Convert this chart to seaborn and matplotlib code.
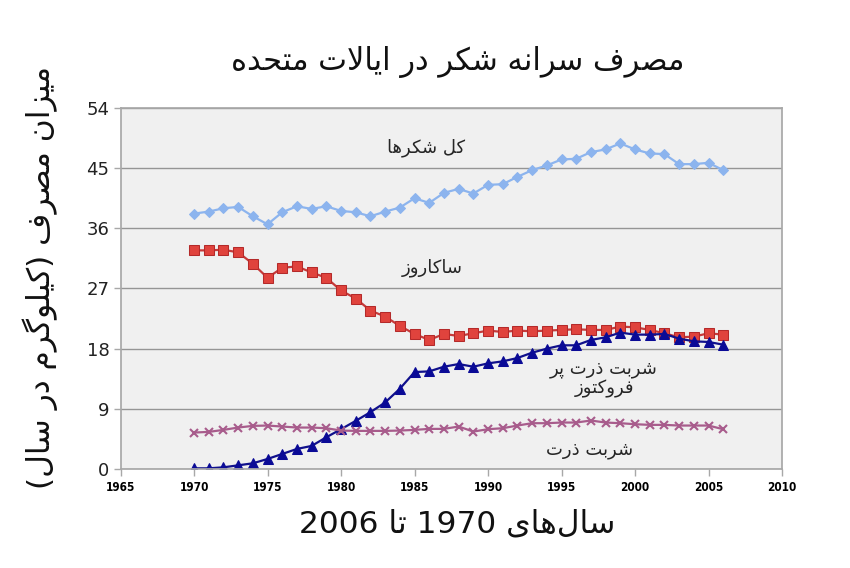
import re
import matplotlib
matplotlib.use('Agg')
import matplotlib.pyplot as plt
import numpy as np
import pandas as pd
import seaborn as sns

years = list(range(1970, 2007))

# کل شکرها
total = [38.2, 38.5, 39.0, 39.2, 37.8, 36.6, 38.4, 39.3, 38.9, 39.3,
         38.6, 38.4, 37.8, 38.5, 39.1, 40.5, 39.8, 41.3, 41.9, 41.2,
         42.5, 42.6, 43.7, 44.7, 45.4, 46.3, 46.4, 47.4, 47.8, 48.7,
         47.8, 47.2, 47.1, 45.6, 45.6, 45.8, 44.7]
# ساکاروز
sucrose = [32.7, 32.7, 32.8, 32.4, 30.7, 28.6, 30.1, 30.3, 29.4, 28.6,
           26.7, 25.5, 23.7, 22.8, 21.4, 20.2, 19.3, 20.2, 19.9, 20.3,
           20.7, 20.5, 20.7, 20.6, 20.7, 20.8, 20.9, 20.8, 20.8, 21.3,
           21.2, 20.8, 20.3, 19.7, 19.8, 20.3, 20.1]
# شربت ذرت پر فروکتوز
hfcs = [0.1, 0.1, 0.25, 0.55, 0.85, 1.5, 2.25, 3.0, 3.45, 4.75,
        5.95, 7.2, 8.5, 9.95, 12.0, 14.5, 14.6, 15.3, 15.7, 15.3,
        15.8, 16.1, 16.6, 17.4, 18.0, 18.5, 18.5, 19.3, 19.7, 20.4,
        20.1, 20.1, 20.2, 19.5, 19.1, 19.0, 18.6]
# شربت ذرت
corn = [5.45, 5.55, 5.85, 6.2, 6.45, 6.5, 6.35, 6.2, 6.2, 6.1,
        5.75, 5.7, 5.7, 5.7, 5.75, 5.85, 6.0, 6.0, 6.35, 5.6,
        5.95, 6.1, 6.5, 6.85, 6.85, 6.95, 6.95, 7.25, 6.95, 6.85,
        6.7, 6.6, 6.6, 6.5, 6.5, 6.5, 5.95]

title = "مصرف سرانه شکر در ایالات متحده"
ylabel = "میزان مصرف (کیلوگرم در سال)"
xlabel = "سال\u200cهای 1970 تا 2006"
lbl_total = "کل شکرها"
lbl_sucrose = "ساکاروز"
lbl_hfcs = "شربت ذرت پر\nفروکتوز"
lbl_corn = "شربت ذرت"

# presentation forms: isolated, final, initial, medial (two entries -> right-joining only)
FORMS = {
    'ا': ('\uFE8D', '\uFE8E'), 'ب': ('\uFE8F', '\uFE90', '\uFE91', '\uFE92'),
    'پ': ('\uFB56', '\uFB57', '\uFB58', '\uFB59'), 'ت': ('\uFE95', '\uFE96', '\uFE97', '\uFE98'),
    'ح': ('\uFEA1', '\uFEA2', '\uFEA3', '\uFEA4'), 'د': ('\uFEA9', '\uFEAA'),
    'ذ': ('\uFEAB', '\uFEAC'), 'ر': ('\uFEAD', '\uFEAE'), 'ز': ('\uFEAF', '\uFEB0'),
    'س': ('\uFEB1', '\uFEB2', '\uFEB3', '\uFEB4'), 'ش': ('\uFEB5', '\uFEB6', '\uFEB7', '\uFEB8'),
    'ص': ('\uFEB9', '\uFEBA', '\uFEBB', '\uFEBC'), 'ف': ('\uFED1', '\uFED2', '\uFED3', '\uFED4'),
    'ک': ('\uFB8E', '\uFB8F', '\uFB90', '\uFB91'), 'گ': ('\uFB92', '\uFB93', '\uFB94', '\uFB95'),
    'ل': ('\uFEDD', '\uFEDE', '\uFEDF', '\uFEE0'), 'م': ('\uFEE1', '\uFEE2', '\uFEE3', '\uFEE4'),
    'ن': ('\uFEE5', '\uFEE6', '\uFEE7', '\uFEE8'), 'ه': ('\uFEE9', '\uFEEA', '\uFEEB', '\uFEEC'),
    'و': ('\uFEED', '\uFEEE'), 'ی': ('\uFBFC', '\uFBFD', '\uFBFE', '\uFBFF'),
}
MIRROR = {'(': ')', ')': '('}


def shape_line(s):
    out = []
    i = 0
    while i < len(s):
        c = s[i]
        if c not in FORMS:
            if c != '\u200c':
                out.append(c)
            i += 1
            continue
        prev = s[i - 1] if i > 0 else ''
        jp = prev in FORMS and len(FORMS[prev]) == 4
        if c == 'ل' and i + 1 < len(s) and s[i + 1] == 'ا':
            out.append('\uFEFC' if jp else '\uFEFB')
            i += 2
            continue
        nxt = s[i + 1] if i + 1 < len(s) else ''
        jn = len(FORMS[c]) == 4 and nxt in FORMS
        f = FORMS[c]
        if jp and jn:
            out.append(f[3])
        elif jn:
            out.append(f[2])
        elif jp:
            out.append(f[1])
        else:
            out.append(f[0])
        i += 1
    toks = re.findall(r'[0-9]+|.', ''.join(out))
    return ''.join(MIRROR.get(t, t) for t in reversed(toks))


def fa(s):
    return '\n'.join(shape_line(l) for l in s.split('\n'))


df = pd.DataFrame({
    'year': years * 4,
    'value': total + sucrose + hfcs + corn,
    'series': ['total'] * len(years) + ['sucrose'] * len(years)
              + ['hfcs'] * len(years) + ['corn'] * len(years),
})

sns.set_theme(style="whitegrid", rc={
    'axes.facecolor': '#f0f0f0', 'axes.edgecolor': '#a8a8a8',
    'grid.color': '#959595', 'grid.linewidth': 1.0,
})
plt.rcParams['font.family'] = ['DejaVu Sans']

fig = plt.figure(figsize=(8.5, 5.68), dpi=100)
ax = fig.add_axes([0.1418, 0.1743, 0.7782, 0.6356])

styles = {
    'total': dict(color='#8cb4ee', marker='D', markersize=5.5, mec='#8cb4ee', mfc='#8cb4ee'),
    'sucrose': dict(color='#c73a3a', marker='s', markersize=7.5, mec='#b42a2a', mfc='#e0433d'),
    'hfcs': dict(color='#10108c', marker='^', markersize=7, mec='#0a0a96', mfc='#0a0a96'),
    'corn': dict(color='#a85c8c', marker='x', markersize=6, mec='#a85c8c', mew=1.5),
}
for name, st in styles.items():
    sub = df[df['series'] == name]
    sns.lineplot(data=sub, x='year', y='value', ax=ax, linewidth=1.6, legend=False, **st)

ax.set_xlim(1965, 2010)
ax.set_ylim(0, 54)
ax.set_xticks(np.arange(1965, 2011, 5))
ax.set_yticks(np.arange(0, 55, 9))
ax.grid(axis='x', visible=False)
ax.tick_params(axis='x', labelsize=8.5, colors='#a8a8a8', labelcolor='black',
               length=5, width=1, direction='out', bottom=True, pad=4)
ax.tick_params(axis='y', labelsize=13, colors='#a8a8a8', labelcolor='#222222',
               length=5, width=1, direction='out', left=True, pad=3)
for lab in ax.get_xticklabels():
    lab.set_fontstretch('condensed')
    lab.set_fontweight('bold')
ax.set_xlabel('')
ax.set_ylabel('')

fig.text(0.538, 0.89, fa(title), ha='center', va='center', fontsize=22, color='#111111')
fig.text(0.047, 0.512, fa(ylabel), ha='center', va='center', rotation=90,
         fontsize=22.5, color='#111111')
fig.text(0.538, 0.078, fa(xlabel), ha='center', va='center', fontsize=22.5, color='#111111')

ax.text(1985.8, 48.0, fa(lbl_total), ha='center', va='center', fontsize=13)
ax.text(1986.2, 30.1, fa(lbl_sucrose), ha='center', va='center', fontsize=13)
ax.text(1997.9, 13.5, fa(lbl_hfcs), ha='center', va='center', fontsize=13,
        multialignment='center', linespacing=1.1)
ax.text(1996.9, 2.8, fa(lbl_corn), ha='center', va='center', fontsize=13)

fig.savefig('out.png', dpi=100)
